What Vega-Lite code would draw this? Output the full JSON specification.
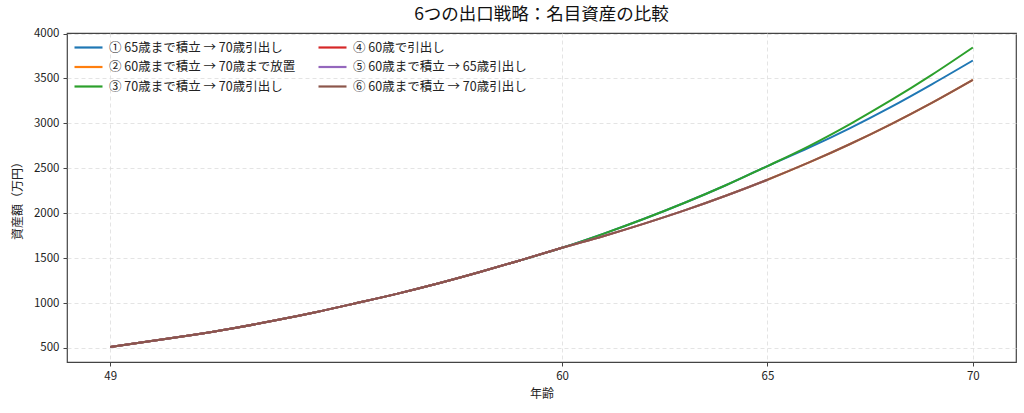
{
 "$schema": "https://vega.github.io/schema/vega-lite/v6.json",
 "width": 949,
 "height": 329,
 "autosize": {"type": "none"},
 "padding": {"left": 67, "top": 33, "right": 8, "bottom": 51},
 "background": "white",
 "config": {
  "font": "Noto Sans CJK JP",
  "view": {"stroke": "#444", "strokeWidth": 1.2},
  "axis": {
   "grid": true, "gridDash": [4, 3], "gridColor": "#dddddd", "gridWidth": 0.8,
   "domain": false, "tickSize": 4, "tickColor": "#444",
   "labelFontSize": 11.5, "labelColor": "#222", "labelPadding": 4,
   "titleFontSize": 12, "titleFontWeight": "normal", "titleColor": "#222",
   "labelFont": "Noto Sans CJK JP", "titleFont": "Noto Sans CJK JP"
  },
  "legend": {"labelFont": "Noto Sans CJK JP"}
 },
 "title": {"text": "6つの出口戦略：名目資産の比較", "fontSize": 17.5, "fontWeight": "normal", "anchor": "middle", "offset": 4, "color": "#111", "font": "Noto Sans CJK JP"},
 "data": {"values": [
  {"series": "① 65歳まで積立 → 70歳引出し", "age": 49, "value": 512},
  {"series": "① 65歳まで積立 → 70歳引出し", "age": 50, "value": 577},
  {"series": "① 65歳まで積立 → 70歳引出し", "age": 51, "value": 645},
  {"series": "① 65歳まで積立 → 70歳引出し", "age": 52, "value": 720},
  {"series": "① 65歳まで積立 → 70歳引出し", "age": 53, "value": 805},
  {"series": "① 65歳まで積立 → 70歳引出し", "age": 54, "value": 898},
  {"series": "① 65歳まで積立 → 70歳引出し", "age": 55, "value": 1000},
  {"series": "① 65歳まで積立 → 70歳引出し", "age": 56, "value": 1105},
  {"series": "① 65歳まで積立 → 70歳引出し", "age": 57, "value": 1220},
  {"series": "① 65歳まで積立 → 70歳引出し", "age": 58, "value": 1345},
  {"series": "① 65歳まで積立 → 70歳引出し", "age": 59, "value": 1478},
  {"series": "① 65歳まで積立 → 70歳引出し", "age": 60, "value": 1615},
  {"series": "① 65歳まで積立 → 70歳引出し", "age": 61, "value": 1770},
  {"series": "① 65歳まで積立 → 70歳引出し", "age": 62, "value": 1938},
  {"series": "① 65歳まで積立 → 70歳引出し", "age": 63, "value": 2119},
  {"series": "① 65歳まで積立 → 70歳引出し", "age": 64, "value": 2314},
  {"series": "① 65歳まで積立 → 70歳引出し", "age": 65, "value": 2525},
  {"series": "① 65歳まで積立 → 70歳引出し", "age": 66, "value": 2727},
  {"series": "① 65歳まで積立 → 70歳引出し", "age": 67, "value": 2945},
  {"series": "① 65歳まで積立 → 70歳引出し", "age": 68, "value": 3181},
  {"series": "① 65歳まで積立 → 70歳引出し", "age": 69, "value": 3435},
  {"series": "① 65歳まで積立 → 70歳引出し", "age": 70, "value": 3700},

  {"series": "② 60歳まで積立 → 70歳まで放置", "age": 49, "value": 512},
  {"series": "② 60歳まで積立 → 70歳まで放置", "age": 50, "value": 577},
  {"series": "② 60歳まで積立 → 70歳まで放置", "age": 51, "value": 645},
  {"series": "② 60歳まで積立 → 70歳まで放置", "age": 52, "value": 720},
  {"series": "② 60歳まで積立 → 70歳まで放置", "age": 53, "value": 805},
  {"series": "② 60歳まで積立 → 70歳まで放置", "age": 54, "value": 898},
  {"series": "② 60歳まで積立 → 70歳まで放置", "age": 55, "value": 1000},
  {"series": "② 60歳まで積立 → 70歳まで放置", "age": 56, "value": 1105},
  {"series": "② 60歳まで積立 → 70歳まで放置", "age": 57, "value": 1220},
  {"series": "② 60歳まで積立 → 70歳まで放置", "age": 58, "value": 1345},
  {"series": "② 60歳まで積立 → 70歳まで放置", "age": 59, "value": 1478},
  {"series": "② 60歳まで積立 → 70歳まで放置", "age": 60, "value": 1615},
  {"series": "② 60歳まで積立 → 70歳まで放置", "age": 61, "value": 1744},
  {"series": "② 60歳まで積立 → 70歳まで放置", "age": 62, "value": 1884},
  {"series": "② 60歳まで積立 → 70歳まで放置", "age": 63, "value": 2034},
  {"series": "② 60歳まで積立 → 70歳まで放置", "age": 64, "value": 2197},
  {"series": "② 60歳まで積立 → 70歳まで放置", "age": 65, "value": 2373},
  {"series": "② 60歳まで積立 → 70歳まで放置", "age": 66, "value": 2563},
  {"series": "② 60歳まで積立 → 70歳まで放置", "age": 67, "value": 2768},
  {"series": "② 60歳まで積立 → 70歳まで放置", "age": 68, "value": 2990},
  {"series": "② 60歳まで積立 → 70歳まで放置", "age": 69, "value": 3229},
  {"series": "② 60歳まで積立 → 70歳まで放置", "age": 70, "value": 3485},

  {"series": "③ 70歳まで積立 → 70歳引出し", "age": 49, "value": 512},
  {"series": "③ 70歳まで積立 → 70歳引出し", "age": 50, "value": 577},
  {"series": "③ 70歳まで積立 → 70歳引出し", "age": 51, "value": 645},
  {"series": "③ 70歳まで積立 → 70歳引出し", "age": 52, "value": 720},
  {"series": "③ 70歳まで積立 → 70歳引出し", "age": 53, "value": 805},
  {"series": "③ 70歳まで積立 → 70歳引出し", "age": 54, "value": 898},
  {"series": "③ 70歳まで積立 → 70歳引出し", "age": 55, "value": 1000},
  {"series": "③ 70歳まで積立 → 70歳引出し", "age": 56, "value": 1105},
  {"series": "③ 70歳まで積立 → 70歳引出し", "age": 57, "value": 1220},
  {"series": "③ 70歳まで積立 → 70歳引出し", "age": 58, "value": 1345},
  {"series": "③ 70歳まで積立 → 70歳引出し", "age": 59, "value": 1478},
  {"series": "③ 70歳まで積立 → 70歳引出し", "age": 60, "value": 1615},
  {"series": "③ 70歳まで積立 → 70歳引出し", "age": 61, "value": 1770},
  {"series": "③ 70歳まで積立 → 70歳引出し", "age": 62, "value": 1938},
  {"series": "③ 70歳まで積立 → 70歳引出し", "age": 63, "value": 2119},
  {"series": "③ 70歳まで積立 → 70歳引出し", "age": 64, "value": 2314},
  {"series": "③ 70歳まで積立 → 70歳引出し", "age": 65, "value": 2525},
  {"series": "③ 70歳まで積立 → 70歳引出し", "age": 66, "value": 2745},
  {"series": "③ 70歳まで積立 → 70歳引出し", "age": 67, "value": 2990},
  {"series": "③ 70歳まで積立 → 70歳引出し", "age": 68, "value": 3255},
  {"series": "③ 70歳まで積立 → 70歳引出し", "age": 69, "value": 3540},
  {"series": "③ 70歳まで積立 → 70歳引出し", "age": 70, "value": 3845},

  {"series": "④ 60歳で引出し", "age": 49, "value": 512},
  {"series": "④ 60歳で引出し", "age": 50, "value": 577},
  {"series": "④ 60歳で引出し", "age": 51, "value": 645},
  {"series": "④ 60歳で引出し", "age": 52, "value": 720},
  {"series": "④ 60歳で引出し", "age": 53, "value": 805},
  {"series": "④ 60歳で引出し", "age": 54, "value": 898},
  {"series": "④ 60歳で引出し", "age": 55, "value": 1000},
  {"series": "④ 60歳で引出し", "age": 56, "value": 1105},
  {"series": "④ 60歳で引出し", "age": 57, "value": 1220},
  {"series": "④ 60歳で引出し", "age": 58, "value": 1345},
  {"series": "④ 60歳で引出し", "age": 59, "value": 1478},
  {"series": "④ 60歳で引出し", "age": 60, "value": 1615},

  {"series": "⑤ 60歳まで積立 → 65歳引出し", "age": 49, "value": 512},
  {"series": "⑤ 60歳まで積立 → 65歳引出し", "age": 50, "value": 577},
  {"series": "⑤ 60歳まで積立 → 65歳引出し", "age": 51, "value": 645},
  {"series": "⑤ 60歳まで積立 → 65歳引出し", "age": 52, "value": 720},
  {"series": "⑤ 60歳まで積立 → 65歳引出し", "age": 53, "value": 805},
  {"series": "⑤ 60歳まで積立 → 65歳引出し", "age": 54, "value": 898},
  {"series": "⑤ 60歳まで積立 → 65歳引出し", "age": 55, "value": 1000},
  {"series": "⑤ 60歳まで積立 → 65歳引出し", "age": 56, "value": 1105},
  {"series": "⑤ 60歳まで積立 → 65歳引出し", "age": 57, "value": 1220},
  {"series": "⑤ 60歳まで積立 → 65歳引出し", "age": 58, "value": 1345},
  {"series": "⑤ 60歳まで積立 → 65歳引出し", "age": 59, "value": 1478},
  {"series": "⑤ 60歳まで積立 → 65歳引出し", "age": 60, "value": 1615},
  {"series": "⑤ 60歳まで積立 → 65歳引出し", "age": 61, "value": 1744},
  {"series": "⑤ 60歳まで積立 → 65歳引出し", "age": 62, "value": 1884},
  {"series": "⑤ 60歳まで積立 → 65歳引出し", "age": 63, "value": 2034},
  {"series": "⑤ 60歳まで積立 → 65歳引出し", "age": 64, "value": 2197},
  {"series": "⑤ 60歳まで積立 → 65歳引出し", "age": 65, "value": 2373},

  {"series": "⑥ 60歳まで積立 → 70歳引出し", "age": 49, "value": 512},
  {"series": "⑥ 60歳まで積立 → 70歳引出し", "age": 50, "value": 577},
  {"series": "⑥ 60歳まで積立 → 70歳引出し", "age": 51, "value": 645},
  {"series": "⑥ 60歳まで積立 → 70歳引出し", "age": 52, "value": 720},
  {"series": "⑥ 60歳まで積立 → 70歳引出し", "age": 53, "value": 805},
  {"series": "⑥ 60歳まで積立 → 70歳引出し", "age": 54, "value": 898},
  {"series": "⑥ 60歳まで積立 → 70歳引出し", "age": 55, "value": 1000},
  {"series": "⑥ 60歳まで積立 → 70歳引出し", "age": 56, "value": 1105},
  {"series": "⑥ 60歳まで積立 → 70歳引出し", "age": 57, "value": 1220},
  {"series": "⑥ 60歳まで積立 → 70歳引出し", "age": 58, "value": 1345},
  {"series": "⑥ 60歳まで積立 → 70歳引出し", "age": 59, "value": 1478},
  {"series": "⑥ 60歳まで積立 → 70歳引出し", "age": 60, "value": 1615},
  {"series": "⑥ 60歳まで積立 → 70歳引出し", "age": 61, "value": 1744},
  {"series": "⑥ 60歳まで積立 → 70歳引出し", "age": 62, "value": 1884},
  {"series": "⑥ 60歳まで積立 → 70歳引出し", "age": 63, "value": 2034},
  {"series": "⑥ 60歳まで積立 → 70歳引出し", "age": 64, "value": 2197},
  {"series": "⑥ 60歳まで積立 → 70歳引出し", "age": 65, "value": 2373},
  {"series": "⑥ 60歳まで積立 → 70歳引出し", "age": 66, "value": 2563},
  {"series": "⑥ 60歳まで積立 → 70歳引出し", "age": 67, "value": 2768},
  {"series": "⑥ 60歳まで積立 → 70歳引出し", "age": 68, "value": 2990},
  {"series": "⑥ 60歳まで積立 → 70歳引出し", "age": 69, "value": 3229},
  {"series": "⑥ 60歳まで積立 → 70歳引出し", "age": 70, "value": 3485}
 ]},
 "mark": {"type": "line", "strokeWidth": 2, "interpolate": "monotone", "clip": true},
 "encoding": {
  "x": {
   "field": "age", "type": "quantitative",
   "scale": {"domain": [47.95, 71.05], "nice": false, "zero": false},
   "axis": {"values": [49, 60, 65, 70], "format": "d", "title": "年齢", "titlePadding": 7, "labelFlush": false}
  },
  "y": {
   "field": "value", "type": "quantitative",
   "scale": {"domain": [344, 4006], "nice": false, "zero": false},
   "axis": {"values": [500, 1000, 1500, 2000, 2500, 3000, 3500, 4000], "format": "d", "title": "資産額（万円）", "titlePadding": 9}
  },
  "color": {
   "field": "series", "type": "nominal",
   "scale": {
    "domain": ["① 65歳まで積立 → 70歳引出し", "② 60歳まで積立 → 70歳まで放置", "③ 70歳まで積立 → 70歳引出し", "④ 60歳で引出し", "⑤ 60歳まで積立 → 65歳引出し", "⑥ 60歳まで積立 → 70歳引出し"],
    "range": ["#1f77b4", "#ff7f0e", "#2ca02c", "#d62728", "#9467bd", "#8c564b"]
   },
   "legend": {
    "orient": "none", "legendX": 6, "legendY": 6, "columns": 2, "title": null,
    "symbolType": "M-1,0H3", "symbolSize": 196, "symbolStrokeWidth": 2.2,
    "labelFontSize": 12.5, "labelOffset": 19, "labelColor": "#222", "labelLimit": 400,
    "columnPadding": 18, "rowPadding": 4.5, "padding": 0
   }
  }
 }
}
